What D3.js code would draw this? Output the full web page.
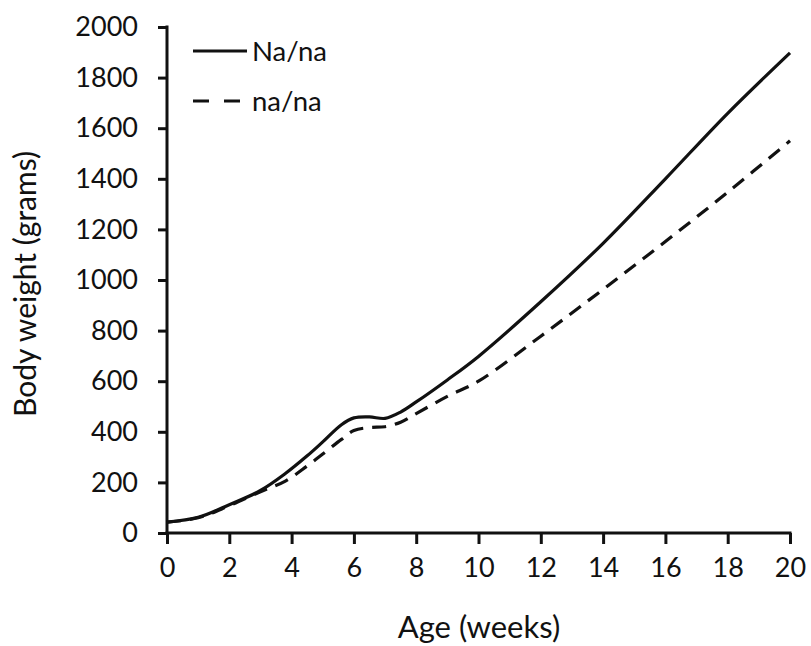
<!DOCTYPE html>
<html><head><meta charset="utf-8">
<script src="https://cdn.jsdelivr.net/npm/d3@7"></script>
<style>body{margin:0;background:#fff;} svg{display:block;} text{font-family:Lato, "Open Sans", sans-serif;fill:#111;}</style>
</head><body><svg id="c" width="811" height="646"></svg>
<script>
const weeks  = [0,1,2,3,3.8,4.5,5,5.6,6,6.5,7,7.5,8,9,10,12,14,16,18,20];
const naNa   = [43,62,112,168,235,305,360,428,455,459,453,478,518,605,698,914,1145,1400,1659,1898];
const nana   = [43,60,108,163,205,265,312,370,405,417,420,438,472,540,600,778,963,1152,1347,1550];
const xTicks = [0,2,4,6,8,10,12,14,16,18,20];
const yTicks = [0,200,400,600,800,1000,1200,1400,1600,1800,2000];
const seriesNames = ["Na/na","na/na"];

const svg = d3.select("#c");
const x = d3.scaleLinear().domain([0,20]).range([167,790]);
const y = d3.scaleLinear().domain([0,2000]).range([533,27]);

const gx = svg.append("g").attr("transform","translate(0,533)")
  .call(d3.axisBottom(x).tickValues(xTicks).tickFormat(d3.format("d")).tickSize(11).tickPadding(14).tickSizeOuter(0));
const gy = svg.append("g").attr("transform","translate(167,0)")
  .call(d3.axisLeft(y).tickValues(yTicks).tickFormat(d3.format("d")).tickSize(9).tickPadding(20).tickSizeOuter(0));
[gx,gy].forEach(g=>{
  g.selectAll("path,line").attr("stroke","#111").attr("stroke-width",3);
  g.selectAll("text").style("font-size","27px").attr("fill","#111");
});
gx.select(".domain").attr("d","M"+(167-1.5)+",0H"+(790+1.5));
gy.select(".domain").attr("d","M0,"+(533+1.5)+"V"+(27-1.5));

const line = d3.line().x((d,i)=>x(weeks[i])).y(d=>y(d)).curve(d3.curveCatmullRom.alpha(0.5));
svg.append("path").attr("d",line(naNa)).attr("fill","none").attr("stroke","#111").attr("stroke-width",3.2);
svg.append("path").attr("d",line(nana)).attr("fill","none").attr("stroke","#111").attr("stroke-width",3.2).attr("stroke-dasharray","14,9");

// legend
const lg = svg.append("g");
lg.append("line").attr("x1",193).attr("x2",247).attr("y1",51).attr("y2",51).attr("stroke","#111").attr("stroke-width",3);
lg.append("line").attr("x1",193).attr("x2",241).attr("y1",101).attr("y2",101).attr("stroke","#111").attr("stroke-width",3).attr("stroke-dasharray","16,15");
lg.append("text").attr("x",252).attr("y",61).style("font-size","27.5px").text(seriesNames[0]);
lg.append("text").attr("x",252).attr("y",111).style("font-size","27.5px").text(seriesNames[1]);

svg.append("text").attr("x",479).attr("y",638).attr("text-anchor","middle").style("font-size","31px").text("Age (weeks)");
svg.append("text").attr("transform","translate(36,284) rotate(-90)").attr("text-anchor","middle").style("font-size","30px").text("Body weight (grams)");
</script></body></html>
